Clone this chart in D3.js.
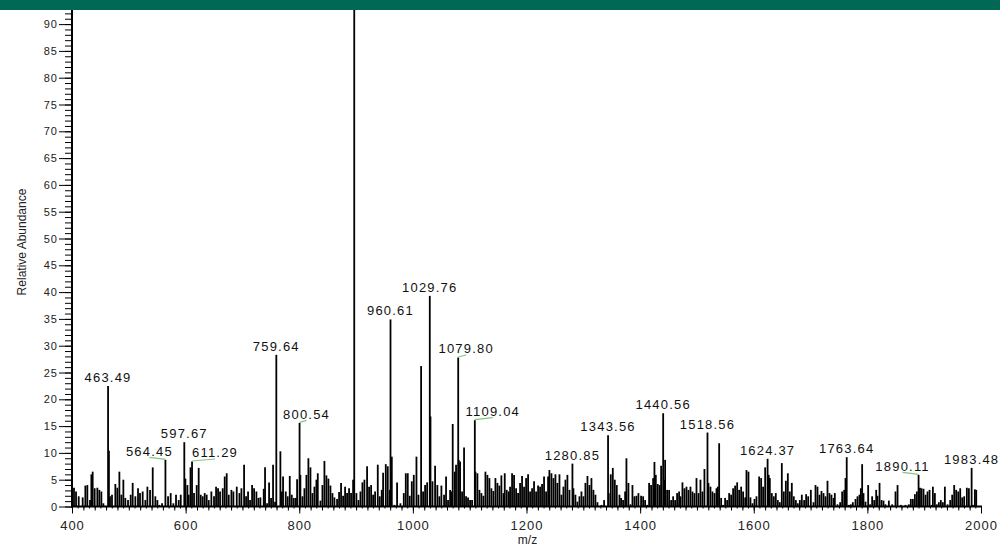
<!DOCTYPE html>
<html>
<head>
<meta charset="utf-8">
<script src="https://cdn.jsdelivr.net/npm/d3@7/dist/d3.min.js"></script>
<style>
body { margin: 0; background: #fff; }
svg { display: block; font-family: Arial, "Liberation Sans", sans-serif; }
</style>
</head>
<body>
<script>
var peakLabels = ["463.49","564.45","597.67","611.29","759.64","800.54","960.61","1029.76","1079.80",
                  "1109.04","1280.85","1343.56","1440.56","1518.56","1624.37","1763.64","1890.11","1983.48"];
var peakAbund  = [22.5, 8.7, 12.0, 8.4, 28.3, 15.6, 34.9, 39.3, 27.8,
                  16.1, 8.0, 13.3, 17.4, 13.8, 8.9, 9.2, 5.9, 7.2];

// all the other (unlabelled) centroids
var otherMz = [403.5,407.1,411.8,418.8,423.5,427.0,431.7,434.1,436.4,439.9,444.6,448.1,451.7,455.2,465.0,466.9,470.4,476.3,479.8,483.4,
  486.9,490.4,493.9,498.6,503.3,506.8,511.5,516.2,519.7,524.4,529.1,532.7,537.4,542.1,546.7,550.3,553.8,558.5,569.1,573.7,
  578.4,583.1,587.8,591.4,599.6,603.1,605.4,608.6,614.8,619.5,623.0,626.6,630.1,633.6,637.1,640.7,645.3,650.0,653.6,657.1,
  660.6,665.3,668.8,672.3,675.9,680.6,684.1,690.0,694.7,698.2,702.9,706.4,709.9,713.4,717.0,720.5,724.6,728.1,731.6,737.5,
  739.8,743.4,746.9,750.4,753.9,757.4,766.8,769.2,771.5,776.2,779.7,783.3,786.8,790.3,793.8,796.2,802.0,805.6,809.1,812.6,
  816.1,819.7,823.2,826.7,830.2,832.6,837.3,840.8,844.3,847.8,851.3,854.9,858.4,861.9,866.6,870.1,873.6,877.2,880.7,884.2,
  887.7,891.2,894.8,896.8,900.6,904.2,907.7,911.2,914.7,919.4,922.9,926.5,930.0,933.5,938.2,941.7,945.2,947.6,952.3,955.8,
  959.3,962.9,967.5,972.2,978.1,984.0,987.5,991.0,994.5,998.1,1001.6,1006.3,1009.8,1014.5,1018.0,1021.5,1025.1,1031.0,1034.5,1039.1,
  1043.1,1046.7,1050.2,1054.9,1058.4,1061.9,1065.5,1067.8,1070.1,1073.7,1076.0,1080.7,1083.1,1086.6,1090.1,1093.6,1097.1,1100.7,1104.2,1110.1,
  1113.6,1117.1,1120.6,1124.1,1127.7,1131.2,1134.7,1138.2,1141.7,1145.3,1148.8,1152.3,1155.8,1159.4,1161.7,1165.2,1168.7,1171.1,1174.6,1178.1,
  1181.7,1185.2,1188.7,1192.2,1195.7,1199.3,1202.8,1206.3,1209.8,1213.3,1216.9,1220.4,1223.9,1227.4,1230.9,1234.5,1238.0,1240.3,1243.9,1247.4,
  1250.9,1254.4,1258.0,1261.5,1265.0,1268.5,1272.0,1275.6,1282.6,1286.1,1289.6,1293.2,1296.7,1300.2,1303.7,1307.3,1310.8,1314.3,1317.8,1321.3,
  1324.9,1331.9,1336.6,1344.8,1348.3,1351.9,1355.4,1358.9,1363.6,1366.5,1370.0,1373.6,1375.9,1379.4,1383.0,1386.5,1390.0,1393.5,1397.0,1401.7,
  1405.3,1408.8,1412.3,1415.8,1419.3,1422.9,1425.2,1427.6,1431.1,1434.6,1437.0,1442.3,1444.0,1447.5,1451.0,1454.6,1458.1,1461.6,1465.1,1468.6,
  1471.0,1474.5,1478.0,1481.6,1485.1,1488.6,1492.1,1495.6,1499.2,1502.7,1506.2,1509.7,1513.2,1520.3,1523.8,1527.3,1530.9,1534.4,1536.7,1539.1,
  1542.6,1546.1,1549.6,1553.2,1556.7,1560.2,1563.7,1567.2,1570.8,1574.3,1577.8,1581.3,1584.9,1587.2,1590.7,1594.2,1597.8,1601.3,1604.8,1609.5,
  1613.0,1616.5,1620.1,1626.3,1628.3,1631.8,1635.3,1638.8,1642.4,1645.9,1649.4,1652.9,1656.5,1660.0,1663.5,1667.0,1670.5,1674.1,1677.6,1681.1,
  1684.6,1688.7,1692.2,1695.8,1700.5,1705.2,1708.7,1712.2,1715.7,1719.2,1722.8,1726.3,1729.8,1733.3,1736.8,1740.4,1742.7,1747.4,1752.1,1755.6,
  1759.2,1761.5,1767.4,1770.9,1774.4,1779.1,1782.6,1786.1,1788.5,1790.8,1793.2,1796.7,1801.4,1804.9,1808.4,1812.0,1815.5,1817.8,1821.4,1824.9,
  1828.4,1831.9,1837.8,1843.7,1849.5,1853.1,1858.9,1867.1,1873.0,1876.5,1880.1,1883.6,1887.1,1892.5,1895.3,1898.8,1902.4,1905.9,1909.4,1912.9,
  1915.3,1918.8,1922.3,1925.8,1929.3,1932.9,1936.4,1941.1,1945.8,1949.3,1952.8,1956.3,1959.9,1963.4,1966.9,1970.4,1975.1,1978.7,1985.7,1989.2,
  1991.6];
var otherAbund = [3.5,2.8,1.9,1.7,3.9,4.0,1.2,6.0,6.5,3.4,3.5,3.1,2.8,0.6,10.4,1.9,2.2,4.2,3.5,6.5,
  2.2,5.0,1.6,1.2,2.2,4.4,1.9,3.4,2.5,2.8,1.2,3.7,3.1,7.3,1.9,1.2,0.3,0.6,1.9,2.5,
  0.6,2.2,1.2,2.2,5.2,4.0,2.2,7.3,2.5,4.0,7.2,2.2,1.9,2.5,2.2,1.2,2.8,1.9,3.7,3.4,
  2.8,3.4,5.6,6.2,2.2,3.1,2.8,3.7,2.5,3.4,7.8,1.9,2.8,1.2,4.0,3.4,2.8,1.6,1.7,3.3,
  7.3,0.6,4.5,1.6,7.8,0.9,10.3,2.8,5.6,2.8,1.9,5.7,2.2,1.6,1.6,5.1,5.9,1.9,3.4,5.9,
  9.0,7.3,2.5,3.7,5.0,6.2,1.1,4.0,8.5,5.8,5.2,3.9,2.5,1.7,1.4,2.7,4.4,2.0,3.7,2.5,
  3.4,2.5,5.0,100,2.5,1.2,2.8,4.5,5.0,7.5,3.7,4.0,2.2,2.8,7.8,1.9,3.1,6.3,7.9,7.5,
  3.1,9.3,0.3,4.5,0.6,2.5,6.2,6.2,2.0,4.7,5.9,9.3,2.2,26.2,2.8,4.0,4.5,16.8,4.7,7.6,
  4.0,1.9,3.9,2.2,5.6,1.2,3.1,2.8,15.4,6.5,7.8,8.7,8.4,2.8,11.0,1.9,1.7,1.2,1.2,6.5,
  6.2,3.1,2.5,2.0,6.5,5.9,5.3,3.4,2.9,5.3,4.4,3.9,5.8,2.5,6.2,3.1,2.8,3.7,6.2,5.9,
  3.4,2.5,4.4,5.7,3.7,5.3,6.0,2.8,3.4,4.7,2.8,3.9,3.7,4.2,5.6,2.8,5.6,6.8,6.2,5.3,
  6.0,4.4,6.0,2.2,3.7,5.0,5.9,3.1,3.4,2.2,0.9,1.9,2.8,1.9,4.4,5.7,4.0,5.3,3.1,2.2,
  0.8,0.3,1.2,2.5,6.0,7.2,5.0,4.0,2.2,1.6,1.2,2.8,9.0,4.4,0.4,4.0,1.9,2.0,2.5,2.0,
  1.9,1.2,0.3,4.4,4.0,5.3,8.3,5.9,4.2,4.0,7.6,5.0,8.7,3.1,3.1,1.2,1.9,1.2,2.5,2.8,
  1.9,4.5,3.4,3.7,3.1,3.7,2.8,2.5,5.3,2.5,5.0,2.8,7.0,4.4,3.7,2.8,2.5,3.4,3.7,11.8,
  1.6,0.3,1.6,1.2,2.5,2.2,3.4,3.9,4.5,3.1,3.7,2.8,1.7,6.8,6.5,1.7,0.6,1.4,1.9,5.6,
  5.3,3.7,7.3,5.9,5.3,2.5,1.9,2.5,1.2,0.8,8.1,2.8,4.8,6.2,2.8,4.4,1.9,1.2,0.6,1.2,
  2.2,1.2,2.3,1.9,3.1,0.8,4.0,3.7,2.2,2.9,2.5,1.9,4.8,2.5,2.2,1.6,2.5,0.4,0.8,2.8,
  3.1,5.3,0.3,0.4,0.8,1.4,1.9,2.2,3.4,7.9,2.5,0.9,4.0,0.4,1.9,1.2,3.1,2.0,4.4,1.2,
  1.1,0.4,1.1,0.4,2.8,4.0,0.3,0.3,0.4,1.4,1.4,2.3,2.8,3.5,3.4,3.3,2.2,2.8,3.1,0.3,
  3.7,2.5,0.4,0.8,1.2,0.8,3.7,0.4,1.2,2.2,4.0,3.1,2.8,3.4,1.7,1.9,3.5,3.4,0.3,3.2,
  3.1];

var xTicks = [400, 600, 800, 1000, 1200, 1400, 1600, 1800, 2000];
var yTicks = [0,5,10,15,20,25,30,35,40,45,50,55,60,65,70,75,80,85,90];

// labels the instrument pushed sideways, with the small green leader under them
var labelNudge = {"564.45": -16, "611.29": 23, "800.54": 7, "1079.80": 8, "1109.04": 18, "1890.11": -16};

var W = 1000, H = 546;
var x0 = 72, x1 = 981, yBase = 506.5;

var x = d3.scaleLinear().domain([400, 2000]).range([x0, x1]);
var y = d3.scaleLinear().domain([0, 100]).range([yBase, yBase - 536]);

var svg = d3.select("body").append("svg")
    .attr("width", W)
    .attr("height", H);

// spectrum sticks
var other = otherMz.map(function(m, i) { return {mz: m, v: otherAbund[i]}; });
var peaks = peakLabels.map(function(l, i) { return {label: l, mz: +l, v: peakAbund[i]}; });

svg.append("g").selectAll("line")
    .data(other.concat(peaks))
  .enter().append("line")
    .attr("x1", function(d) { return x(d.mz); })
    .attr("x2", function(d) { return x(d.mz); })
    .attr("y1", y(0))
    .attr("y2", function(d) { return y(d.v); })
    .attr("stroke", "#000")
    .attr("stroke-width", 1.8);

// peak labels
var lab = svg.append("g");
lab.selectAll("text")
    .data(peaks)
  .enter().append("text")
    .attr("x", function(d) { return x(d.mz) + (labelNudge[d.label] || 0); })
    .attr("y", function(d) { return y(d.v) - 4; })
    .attr("text-anchor", "middle")
    .style("font-size", "13px")
    .style("letter-spacing", "1.2px")
    .attr("fill", "#111")
    .text(function(d) { return d.label; });

lab.selectAll("line")
    .data(peaks.filter(function(d) { return labelNudge[d.label]; }))
  .enter().append("line")
    .attr("x1", function(d) { return x(d.mz); })
    .attr("y1", function(d) { return y(d.v) - 0.5; })
    .attr("x2", function(d) { return x(d.mz) + labelNudge[d.label]; })
    .attr("y2", function(d) { return y(d.v) - 2.5; })
    .attr("stroke", "#7cc97c")
    .attr("stroke-width", 1.2);

// y axis: minor ticks every 1, major every 5
var yMinor = d3.range(0, 96);
svg.append("g")
    .attr("transform", "translate(" + x0 + ",0)")
    .call(d3.axisLeft(y).tickValues(yMinor).tickSize(7).tickFormat(""))
    .call(function(g) { g.select(".domain").remove(); });

var yAxis = svg.append("g")
    .attr("transform", "translate(" + x0 + ",0)")
    .call(d3.axisLeft(y).tickValues(yTicks).tickSize(13).tickPadding(1));
yAxis.select(".domain").remove();
yAxis.selectAll("text")
    .style("font-size", "11px")
    .style("letter-spacing", "1px")
    .attr("fill", "#222");

svg.append("line")
    .attr("x1", x0).attr("x2", x0)
    .attr("y1", yBase + 1).attr("y2", 0)
    .attr("stroke", "#000").attr("stroke-width", 2);

// x axis: small ticks every 10, every 20 a bit longer, labels every 200
svg.append("g")
    .attr("transform", "translate(0," + yBase + ")")
    .call(d3.axisBottom(x).tickValues(d3.range(400, 2001, 10)).tickSize(2).tickFormat(""))
    .call(function(g) { g.select(".domain").remove(); });
svg.append("g")
    .attr("transform", "translate(0," + yBase + ")")
    .call(d3.axisBottom(x).tickValues(d3.range(400, 2001, 20)).tickSize(4).tickFormat(""))
    .call(function(g) { g.select(".domain").remove(); });

var xAxis = svg.append("g")
    .attr("transform", "translate(0," + yBase + ")")
    .call(d3.axisBottom(x).tickValues(xTicks).tickSize(7).tickPadding(7).tickFormat(d3.format("d")));
xAxis.select(".domain").remove();
xAxis.selectAll("text")
    .style("font-size", "13px")
    .style("letter-spacing", "1px")
    .attr("fill", "#222");

svg.append("line")
    .attr("x1", x0 - 1).attr("x2", x1 + 1)
    .attr("y1", yBase).attr("y2", yBase)
    .attr("stroke", "#000").attr("stroke-width", 2);

// axis titles
svg.append("text")
    .attr("x", (x0 + x1) / 2 + 1)
    .attr("y", 544)
    .attr("text-anchor", "middle")
    .style("font-size", "12px")
    .attr("fill", "#222")
    .text("m/z");

svg.append("text")
    .attr("transform", "translate(26,242) rotate(-90)")
    .attr("text-anchor", "middle")
    .style("font-size", "12px")
    .attr("fill", "#222")
    .text("Relative Abundance");

// green title strip at the top
svg.append("rect")
    .attr("x", 0).attr("y", 0)
    .attr("width", W).attr("height", 10)
    .attr("fill", "#006854");
</script>
</body>
</html>
